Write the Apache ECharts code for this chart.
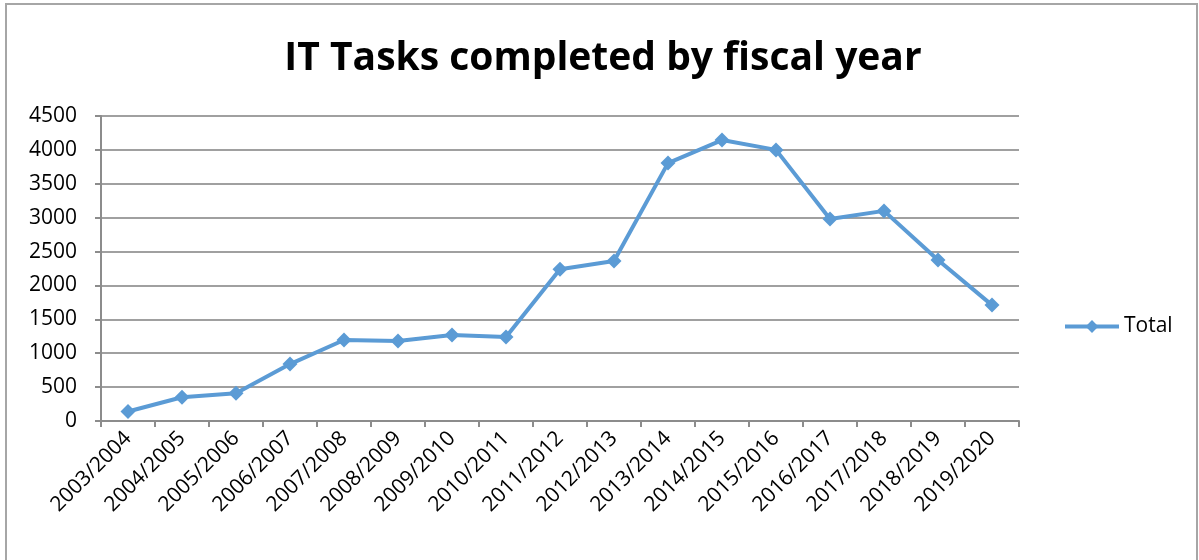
<!DOCTYPE html>
<html>
<head>
<meta charset="utf-8">
<script src="https://cdn.jsdelivr.net/npm/echarts@6/dist/echarts.min.js"></script>
<style>
html,body{margin:0;padding:0;background:#fff;}
#c{width:1199px;height:560px;}
</style>
</head>
<body>
<div id="c"></div>
<script>
const categories = ["2003/2004","2004/2005","2005/2006","2006/2007","2007/2008","2008/2009","2009/2010","2010/2011","2011/2012","2012/2013","2013/2014","2014/2015","2015/2016","2016/2017","2017/2018","2018/2019","2019/2020"];
const totalValues = [140, 350, 410, 840, 1195, 1180, 1268, 1240, 2240, 2360, 3805, 4145, 4000, 2980, 3100, 2375, 1710];
const yTicks = {min: 0, max: 4500, interval: 500};

const chart = echarts.init(document.getElementById('c'), null, {renderer: 'canvas'});
const font = '"Open Sans", "Noto Sans", sans-serif';
chart.setOption({
  animation: false,
  backgroundColor: '#ffffff',
  graphic: [{
    type: 'rect',
    shape: {x: 6, y: 4, width: 1191, height: 700},
    style: {fill: 'none', stroke: '#a6a6a6', lineWidth: 2},
    silent: true
  }],
  title: {
    text: 'IT Tasks completed by fiscal year',
    left: 598,
    textAlign: 'center',
    top: 34,
    textStyle: {fontFamily: font, fontWeight: 'bold', fontSize: 39, color: '#000'}
  },
  legend: {
    data: ['Total'],
    left: 1058,
    top: 311,
    itemWidth: 54,
    itemHeight: 16,
    itemGap: 4,
    lineStyle: {width: 4},
    textStyle: {fontFamily: font, fontSize: 21, color: '#000'}
  },
  grid: {left: 101, right: 180, top: 116, bottom: 139},
  xAxis: {
    type: 'category',
    data: categories,
    boundaryGap: true,
    axisLine: {show: true, lineStyle: {color: '#8c8c8c', width: 2}},
    axisTick: {show: true, length: 6, lineStyle: {color: '#8c8c8c', width: 2}},
    axisLabel: {interval: 0, rotate: 45, margin: 14, fontFamily: font, fontSize: 21, color: '#000'}
  },
  yAxis: {
    type: 'value',
    min: yTicks.min,
    max: yTicks.max,
    interval: yTicks.interval,
    axisLine: {show: true, lineStyle: {color: '#8c8c8c', width: 2}},
    axisTick: {show: true, length: 6, lineStyle: {color: '#8c8c8c', width: 2}},
    axisLabel: {margin: 24, fontFamily: font, fontSize: 21, color: '#000', formatter: function (v) { return String(v); }},
    splitLine: {show: true, lineStyle: {color: '#a0a0a0', width: 2}}
  },
  series: [{
    name: 'Total',
    type: 'line',
    data: totalValues,
    symbol: 'diamond',
    symbolSize: 15,
    lineStyle: {color: '#5b9bd5', width: 4},
    itemStyle: {color: '#5b9bd5'}
  }]
});
</script>
</body>
</html>
